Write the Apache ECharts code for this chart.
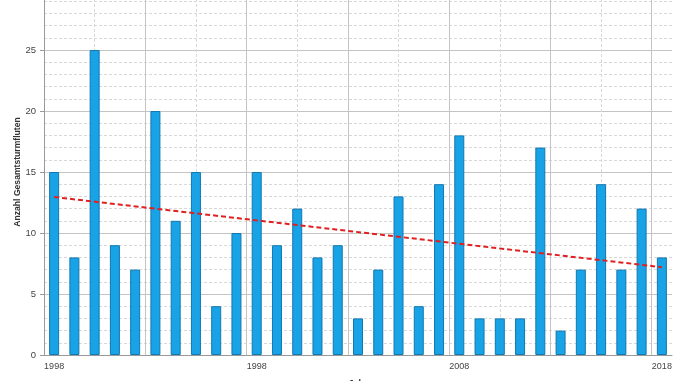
<!DOCTYPE html>
<html><head><meta charset="utf-8">
<script src="https://cdn.jsdelivr.net/npm/echarts@6/dist/echarts.min.js"></script>
<style>html,body{margin:0;padding:0;background:#fff;overflow:hidden;width:678px;height:381px;position:relative}#c{position:absolute;left:0;top:-11px;width:678px;height:392px}</style>
</head><body><div id="c"></div>
<script>
const years = [];
for (let y = 1988; y <= 2018; y++) years.push(String(y));
const counts = [15, 8, 25, 9, 7, 20, 11, 15, 4, 10, 15, 9, 12, 8, 9, 3, 7, 13, 4, 14, 18, 3, 3, 3, 17, 2, 7, 14, 7, 12, 8];
const tickLabels = {0: '1998', 10: '1998', 20: '2008', 30: '2018'};
const trendStart = 12.95;
const trendEnd = 7.2;
const yTitle = 'Anzahl Gesamtsturmfluten';
const xTitle = 'Jahr';

const chart = echarts.init(document.getElementById('c'), null, {width: 678, height: 392});
const font = 'Liberation Sans';
chart.setOption({
  animation: false,
  textStyle: {fontFamily: font},
  grid: {left: 44, right: 6, top: 0, bottom: 26, containLabel: false, outerBoundsMode: 'none'},
  xAxis: [{
    type: 'category', data: years, boundaryGap: true,
    axisLine: {lineStyle: {color: '#999'}},
    axisTick: {show: false},
    axisLabel: {interval: 0, formatter: (v, i) => tickLabels[i] || '', color: '#444', fontSize: 9, margin: 7},
    splitLine: {show: false},
    name: xTitle, nameLocation: 'middle', nameGap: 24, nameMoveOverlap: false,
    nameTextStyle: {color: '#333', fontSize: 9, fontWeight: 'bold'}
  }, {
    type: 'value', min: 0, max: 31, interval: 5, show: true,
    axisLine: {show: false}, axisTick: {show: false}, axisLabel: {show: false},
    splitLine: {show: true, showMinLine: false, showMaxLine: false, lineStyle: {color: '#c4c4c4', width: 1}},
    minorTick: {show: false, splitNumber: 2},
    minorSplitLine: {show: true, lineStyle: {color: '#d8d8d8', type: [3, 2], width: 1}}
  }],
  yAxis: {
    type: 'value', min: 0, max: 30, interval: 5,
    axisLine: {show: true, lineStyle: {color: '#999'}},
    axisTick: {show: true, length: 4, lineStyle: {color: '#999'}},
    axisLabel: {color: '#444', fontSize: 9.5, margin: 8},
    splitLine: {show: true, lineStyle: {color: '#c4c4c4'}},
    minorTick: {show: false, splitNumber: 5},
    minorSplitLine: {show: true, lineStyle: {color: '#d8d8d8', type: [3, 2]}},
    name: yTitle, nameLocation: 'middle', nameGap: 22, nameRotate: 90, nameMoveOverlap: false,
    nameTextStyle: {color: '#333', fontSize: 8.6, fontWeight: 'bold'}
  },
  series: [{
    type: 'bar', data: counts, xAxisIndex: 0, barWidth: 10,
    itemStyle: {color: '#18a3e6', borderColor: '#1278b0', borderWidth: 1}
  }, {
    type: 'line', xAxisIndex: 1,
    data: [[0.5, trendStart], [30.5, trendEnd]],
    symbol: 'none', z: 5,
    lineStyle: {color: '#e02020', width: 2, type: [5, 3]}
  }]
});
</script></body></html>
